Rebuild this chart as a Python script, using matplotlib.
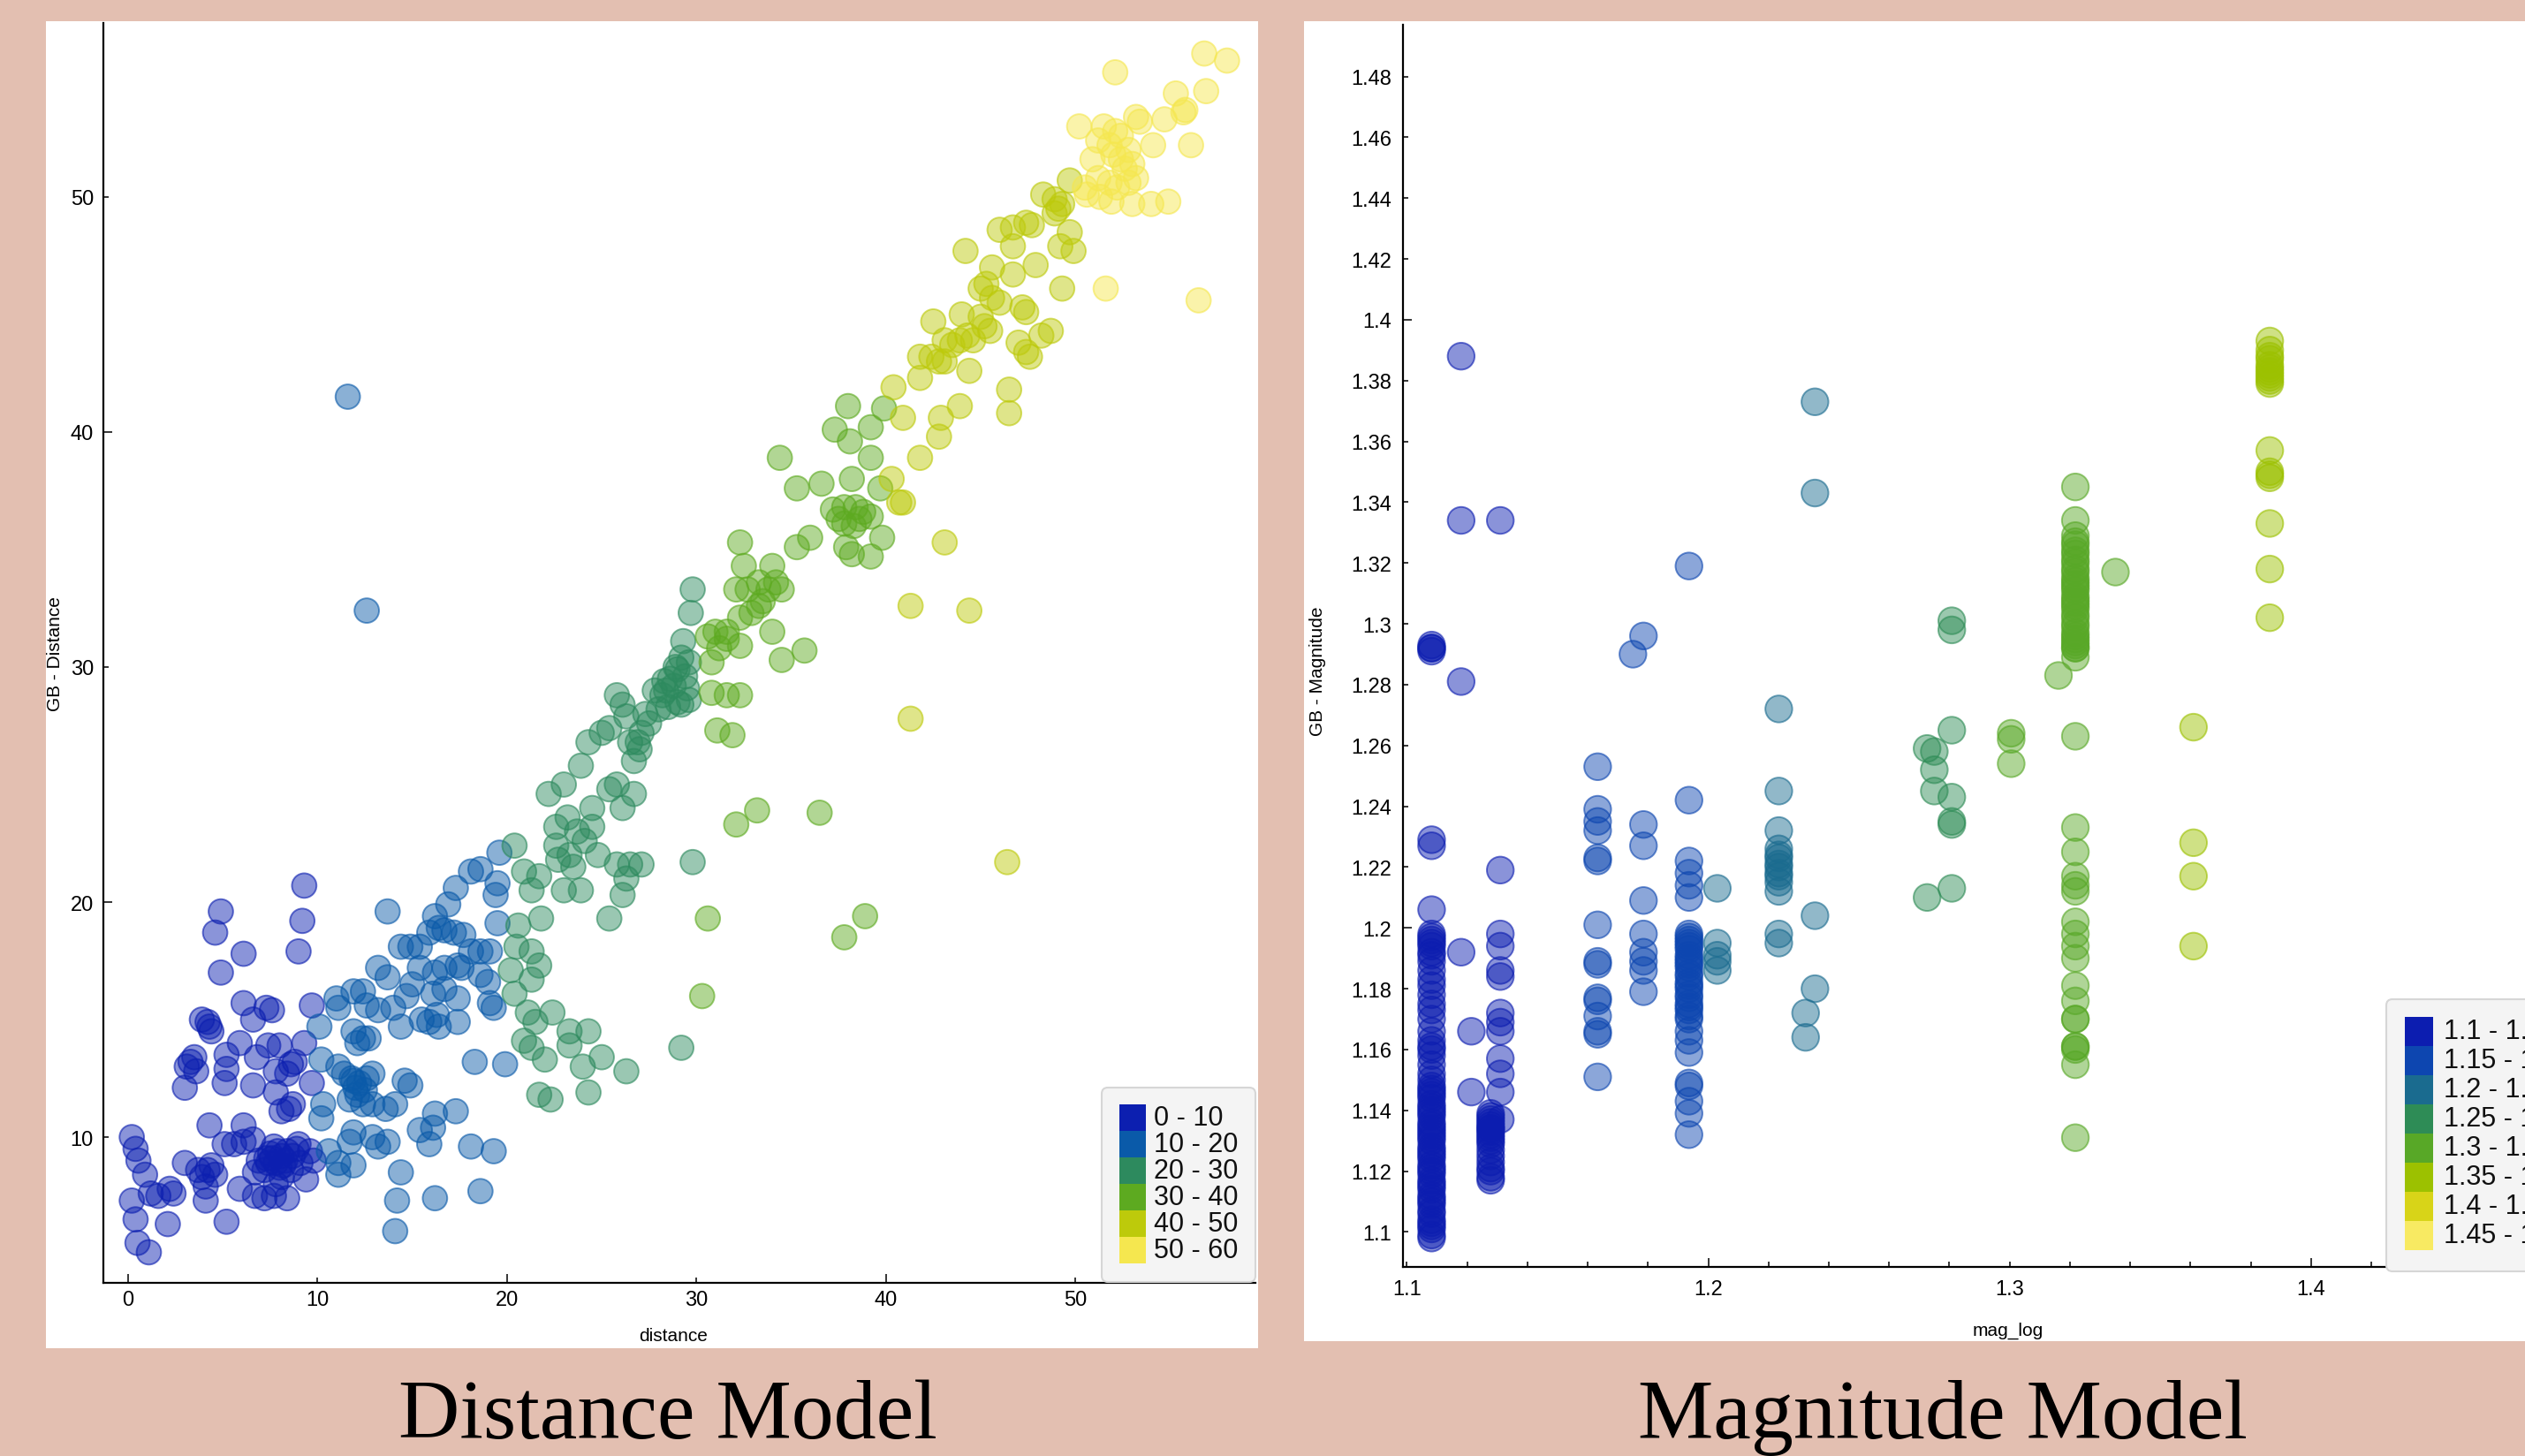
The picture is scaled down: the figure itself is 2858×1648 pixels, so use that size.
import numpy as np
import matplotlib
matplotlib.use("Agg")
import matplotlib.pyplot as plt
from matplotlib.patches import Rectangle, FancyBboxPatch
from matplotlib.ticker import FixedLocator, FormatStrFormatter
from matplotlib.colors import to_rgba

W, H = 2858, 1649

# ---- Distance model: (distance, GB - Distance) ----
dist_x = [
    # 0 - 10
    0.2, 0.4, 0.55, 0.9, 1.2, 1.6, 2.2, 3.0, 3.7, 3.9, 4.2, 4.4, 4.6, 4.1, 4.1, 5.1, 5.6, 6.1, 6.6, 5.9,
    6.7, 7.2, 7.7, 8.4, 6.7, 7.4, 7.8, 8.1, 7.7, 8.4, 8.7, 9.1, 9.4, 8.1, 7.8, 7.2, 9.6, 0.2, 0.4, 2.1,
    5.2, 0.5, 1.1, 4.3, 6.1, 9.3, 9.2, 9.0, 4.9, 4.6, 6.1, 4.9, 6.1, 7.3, 7.6, 6.6, 4.2, 4.3, 4.4, 3.9,
    9.7, 5.9, 7.4, 8.0, 9.3, 3.5, 3.1, 3.6, 3.3, 5.2, 5.2, 5.1, 3.0, 6.6, 6.8, 7.8, 8.6, 8.8, 8.4, 9.7,
    7.8, 8.7, 8.5, 8.1, 2.4, 8.0, 8.3, 7.5, 6.9, 9.0, 9.8, 7.6, 8.2, 7.9, 8.6, 7.3, 8.9,
    # 10 - 20
    13.7, 19.6, 18.6, 18.1, 17.3, 16.9, 16.2, 19.5, 19.4, 19.5, 14.4, 14.9, 15.4, 15.9, 16.4, 16.7, 17.2,
    17.7, 15.4, 16.2, 16.7, 17.4, 18.1, 18.6, 19.1, 18.6, 13.2, 13.7, 14.7, 16.1, 16.7, 17.4, 19.1, 19.3,
    17.4, 16.3, 15.9, 16.4, 14.4, 11.0, 11.1, 11.9, 12.4, 12.6, 10.1, 13.2, 11.9, 12.4, 12.7, 12.1, 18.3,
    19.9, 10.2, 11.1, 11.4, 11.9, 12.2, 12.6, 12.9, 12.1, 11.7, 12.4, 12.9, 10.2, 14.1, 14.6, 14.9, 11.9,
    11.7, 12.9, 13.2, 13.7, 10.6, 11.1, 11.1, 11.9, 15.4, 16.1, 15.9, 17.3, 18.1, 19.3, 14.4, 14.2, 16.2,
    18.6, 14.1, 11.6, 12.6, 15.0, 14.0, 15.5, 17.6, 19.0, 10.3, 13.6, 16.2, 12.0, 11.8, 12.5,
    # 20 - 30
    20.4, 20.9, 21.7, 21.3, 21.8, 20.5, 21.3, 21.7, 20.2, 20.4, 21.3, 21.1, 21.5, 22.4, 20.9, 21.3, 23.3,
    24.3, 23.3, 25.0, 26.3, 21.7, 22.3, 24.3, 22.2, 23.0, 22.6, 23.2, 23.7, 22.6, 23.3, 23.5, 22.7, 23.0,
    23.9, 24.1, 24.5, 24.5, 25.4, 25.8, 26.1, 26.7, 25.8, 26.5, 27.1, 26.3, 26.1, 25.4, 23.9, 24.3, 25.0,
    25.4, 25.8, 26.1, 26.3, 26.5, 26.7, 26.9, 27.1, 27.3, 27.8, 28.2, 28.6, 29.0, 29.4, 29.8, 29.7, 29.3,
    28.3, 28.9, 29.2, 29.6, 28.0, 28.5, 29.0, 29.5, 27.5, 27.0, 28.4, 29.8, 29.2, 29.2, 29.6, 28.8, 22.0,
    24.0, 20.6, 24.8,
    # 30 - 40
    30.6, 30.3, 32.1, 33.2, 36.5, 37.8, 38.9, 31.1, 31.9, 30.8, 31.6, 32.3, 30.8, 31.2, 31.6, 30.6, 31.0,
    31.6, 32.3, 32.3, 32.9, 32.3, 32.5, 32.1, 32.7, 33.3, 33.8, 34.2, 34.0, 34.5, 33.3, 33.5, 34.0, 34.5,
    35.7, 34.4, 35.3, 35.3, 36.0, 36.6, 37.3, 38.0, 38.1, 39.2, 39.2, 38.2, 37.2, 37.8, 38.4, 38.8, 37.8,
    38.6, 39.2, 37.9, 38.2, 39.2, 39.8, 39.7, 39.9, 37.5, 38.3,
    # 40 - 50
    40.3, 40.7, 40.9, 40.4, 40.9, 41.8, 41.3, 41.3, 43.1, 44.4, 46.4, 42.8, 42.9, 43.9, 41.8, 41.8, 42.4,
    42.8, 43.1, 42.5, 43.1, 43.5, 43.9, 44.3, 44.6, 44.4, 45.0, 45.2, 45.5, 44.2, 45.6, 45.0, 45.6, 46.7,
    47.2, 47.4, 47.0, 47.4, 47.6, 48.2, 48.7, 46.5, 46.5, 47.9, 49.3, 46.0, 46.7, 47.4, 47.7, 46.7, 48.3,
    48.9, 49.3, 48.9, 49.1, 49.7, 49.7, 49.9, 49.2, 44.0, 45.3, 46.0,
    # 50 - 60
    52.1, 50.2, 51.5, 52.1, 52.4, 53.2, 53.4, 54.7, 55.3, 56.8, 58.0, 56.9, 55.8, 55.7, 56.1, 54.1, 51.2,
    51.8, 52.0, 52.4, 52.8, 52.6, 53.0, 50.9, 51.2, 51.8, 52.2, 52.8, 53.2, 50.5, 51.3, 51.9, 53.0, 54.0,
    54.9, 51.6, 56.5, 50.6,
]
dist_y = [
    # 0 - 10
    10.0, 9.5, 9.0, 8.4, 7.6, 7.5, 7.8, 8.9, 8.6, 8.3, 8.6, 8.8, 8.4, 7.9, 7.3, 9.7, 9.7, 9.8, 9.9, 7.8,
    7.5, 7.4, 7.5, 7.4, 8.5, 8.9, 8.9, 9.2, 9.6, 9.4, 9.2, 8.9, 8.2, 8.3, 8.0, 8.6, 9.4, 7.3, 6.5, 6.3,
    6.4, 5.5, 5.1, 10.5, 10.5, 20.7, 19.2, 17.9, 19.6, 18.7, 17.8, 17.0, 15.7, 15.5, 15.4, 15.0, 14.9, 14.7, 14.5, 15.0,
    15.6, 14.0, 13.9, 13.9, 14.0, 13.4, 13.0, 12.8, 13.2, 13.5, 12.9, 12.3, 12.1, 12.2, 13.4, 12.8, 13.1, 13.2, 12.7, 12.3,
    11.9, 11.4, 11.2, 11.1, 7.6, 8.7, 9.0, 9.3, 9.0, 9.7, 9.0, 9.1, 8.8, 9.4, 8.6, 9.1, 9.5,
    # 10 - 20
    19.6, 22.1, 21.4, 21.3, 20.6, 19.9, 19.4, 20.8, 20.3, 19.1, 18.1, 18.1, 18.1, 18.7, 18.9, 18.8, 18.7,
    18.6, 17.2, 17.0, 17.2, 17.3, 17.9, 17.9, 17.9, 16.9, 17.2, 16.8, 16.0, 16.1, 16.3, 15.9, 15.7, 15.5,
    14.9, 15.2, 14.9, 14.7, 14.7, 15.9, 15.5, 16.2, 16.2, 15.6, 14.7, 15.4, 14.5, 14.2, 14.2, 14.0, 13.2,
    13.1, 13.3, 13.0, 12.7, 12.4, 12.3, 12.5, 12.7, 11.8, 11.6, 11.4, 11.4, 10.8, 11.4, 12.4, 12.2, 10.2,
    9.8, 10.0, 9.6, 9.8, 9.4, 8.9, 8.4, 8.8, 10.3, 10.4, 9.7, 11.1, 9.6, 9.4, 8.5, 7.3, 7.4,
    7.7, 6.0, 41.5, 32.4, 16.5, 15.5, 15.0, 17.2, 16.6, 11.4, 11.2, 11.0, 12.1, 12.5, 12.0,
    # 20 - 30
    22.4, 21.3, 21.1, 20.5, 19.3, 18.1, 17.9, 17.3, 17.1, 16.1, 16.7, 15.3, 14.9, 15.3, 14.1, 13.8, 14.5,
    14.5, 13.9, 13.4, 12.8, 11.8, 11.6, 11.9, 24.6, 25.0, 23.2, 23.6, 23.0, 22.4, 22.0, 21.5, 21.8, 20.5,
    20.5, 22.6, 23.2, 24.0, 24.8, 25.0, 24.0, 24.6, 21.6, 21.6, 21.6, 21.0, 20.3, 19.3, 25.8, 26.8, 27.2,
    27.4, 28.8, 28.4, 27.9, 26.8, 26.0, 26.8, 27.2, 28.0, 29.0, 28.8, 29.5, 29.9, 29.6, 33.3, 32.3, 31.1,
    29.4, 30.0, 28.4, 28.6, 28.2, 28.3, 28.5, 29.1, 27.6, 26.5, 29.0, 21.7, 13.8, 30.4, 30.2, 29.2, 13.3,
    13.0, 19.0, 22.0,
    # 30 - 40
    19.3, 16.0, 23.3, 23.9, 23.8, 18.5, 19.4, 27.3, 27.1, 28.9, 28.8, 28.8, 30.2, 30.8, 31.2, 31.3, 31.5,
    31.5, 30.9, 32.1, 32.3, 35.3, 34.3, 33.3, 33.3, 33.6, 33.3, 33.6, 34.3, 33.3, 32.6, 32.8, 31.5, 30.3,
    30.7, 38.9, 37.6, 35.1, 35.5, 37.8, 40.1, 41.1, 39.6, 40.2, 38.9, 38.0, 36.7, 36.8, 36.8, 36.6, 36.1,
    36.3, 36.4, 35.1, 34.8, 34.7, 35.5, 37.6, 41.0, 36.3, 36.0,
    # 40 - 50
    38.0, 37.0, 37.0, 41.9, 40.6, 38.9, 32.6, 27.8, 35.3, 32.4, 21.7, 39.8, 40.6, 41.1, 42.3, 43.2, 43.2,
    43.0, 43.0, 44.7, 43.9, 43.7, 43.9, 44.1, 43.9, 42.6, 44.9, 44.5, 44.3, 47.7, 47.0, 46.1, 45.7, 46.7,
    45.3, 45.1, 43.8, 43.4, 43.2, 44.1, 44.3, 41.8, 40.8, 47.1, 46.1, 48.6, 48.7, 48.9, 48.8, 47.9, 50.1,
    49.9, 49.7, 49.3, 49.5, 50.7, 48.5, 47.7, 47.9, 45.0, 46.3, 45.5,
    # 50 - 60
    55.3, 53.0, 53.0, 52.8, 52.6, 53.4, 53.2, 53.3, 54.4, 56.1, 55.8, 54.5, 53.7, 53.6, 52.2, 52.2, 52.4,
    52.2, 51.8, 51.6, 52.0, 51.2, 51.4, 51.6, 50.8, 50.6, 50.4, 50.6, 50.8, 50.4, 50.0, 49.8, 49.7, 49.7,
    49.8, 46.1, 45.6, 50.1,
]
dist_bins = [0, 10, 20, 30, 40, 50, 60]
dist_colors = ['#0C1FB0', '#0A5AA9', '#2D8A5E', '#5DAA20', '#BDCA0B', '#F5E74F']
dist_labels = ['0 - 10', '10 - 20', '20 - 30', '30 - 40', '40 - 50', '50 - 60']

# ---- Magnitude model: columns of (mag_log, GB - Magnitude) ----
mag_col_x = [1.1082, 1.118, 1.1214, 1.1278, 1.131, 1.1633, 1.175, 1.1785, 1.1936, 1.203, 1.2234,
             1.2323, 1.2354, 1.2726, 1.275, 1.2808, 1.3005, 1.3162, 1.3218, 1.3351, 1.361, 1.3863]
mag_col_y = [
    [1.098, 1.101, 1.103, 1.106, 1.109, 1.111, 1.114, 1.116, 1.119, 1.121, 1.124, 1.126, 1.128, 1.131,
     1.133, 1.135, 1.138, 1.140, 1.142, 1.145, 1.147, 1.150, 1.155, 1.158, 1.160, 1.163, 1.166, 1.170,
     1.173, 1.178, 1.183, 1.186, 1.189, 1.192, 1.194, 1.196, 1.198, 1.206, 1.227, 1.229, 1.291, 1.292,
     1.293, 1.099, 1.102, 1.104, 1.107, 1.110, 1.112, 1.115, 1.117, 1.120, 1.122, 1.125, 1.127, 1.130,
     1.132, 1.134, 1.136, 1.139, 1.141, 1.144, 1.146, 1.148, 1.152, 1.161, 1.175, 1.181, 1.191, 1.195,
     1.197, 1.292],
    [1.388, 1.334, 1.281, 1.192],
    [1.166, 1.146],
    [1.117, 1.120, 1.123, 1.125, 1.129, 1.131, 1.132, 1.134, 1.135, 1.137, 1.139, 1.118, 1.121, 1.127,
     1.130, 1.133, 1.134, 1.136, 1.138],
    [1.334, 1.219, 1.198, 1.194, 1.186, 1.184, 1.172, 1.169, 1.166, 1.157, 1.152, 1.146, 1.137],
    [1.253, 1.239, 1.235, 1.232, 1.223, 1.222, 1.201, 1.189, 1.188, 1.177, 1.176, 1.171, 1.166, 1.165,
     1.151],
    [1.290],
    [1.296, 1.234, 1.227, 1.209, 1.198, 1.192, 1.189, 1.186, 1.179],
    [1.319, 1.242, 1.222, 1.218, 1.214, 1.210, 1.198, 1.195, 1.193, 1.190, 1.188, 1.185, 1.182, 1.180,
     1.178, 1.175, 1.173, 1.170, 1.166, 1.163, 1.159, 1.149, 1.148, 1.143, 1.139, 1.132, 1.197, 1.194,
     1.191, 1.187, 1.184, 1.181, 1.177, 1.174, 1.171, 1.196, 1.189],
    [1.213, 1.195, 1.191, 1.189, 1.186],
    [1.272, 1.245, 1.232, 1.226, 1.223, 1.221, 1.218, 1.215, 1.212, 1.198, 1.195, 1.224, 1.220, 1.217],
    [1.172, 1.164],
    [1.373, 1.343, 1.204, 1.180],
    [1.259, 1.210],
    [1.258, 1.252, 1.245],
    [1.301, 1.298, 1.265, 1.243, 1.235, 1.234, 1.213],
    [1.264, 1.262, 1.254],
    [1.283],
    [1.345, 1.334, 1.329, 1.326, 1.323, 1.320, 1.317, 1.314, 1.311, 1.308, 1.305, 1.302, 1.299, 1.296,
     1.294, 1.292, 1.289, 1.263, 1.233, 1.225, 1.217, 1.214, 1.212, 1.202, 1.198, 1.194, 1.190, 1.181,
     1.176, 1.170, 1.161, 1.160, 1.155, 1.131, 1.327, 1.324, 1.321, 1.318, 1.315, 1.312, 1.309, 1.306,
     1.303, 1.300, 1.297, 1.295, 1.293, 1.292, 1.313, 1.307, 1.161, 1.170],
    [1.317],
    [1.266, 1.228, 1.217, 1.194],
    [1.393, 1.390, 1.387, 1.384, 1.381, 1.379, 1.357, 1.350, 1.348, 1.333, 1.318, 1.302, 1.388, 1.385,
     1.383, 1.382, 1.380, 1.349],
]
mag_bins = [1.1, 1.15, 1.2, 1.25, 1.3, 1.35, 1.4, 1.45, 1.5]
mag_colors = ['#0C1DB0', '#0D46B0', '#1A6B8F', '#2E8C56', '#58A827', '#9CC100', '#D8D418', '#F8EA62']
mag_labels = ['1.1 - 1.15', '1.15 - 1.2', '1.2 - 1.25', '1.25 - 1.3',
              '1.3 - 1.35', '1.35 - 1.4', '1.4 - 1.45', '1.45 - 1.5']

mag_x = [x for x, ys in zip(mag_col_x, mag_col_y) for _ in ys]
mag_y = [y for ys in mag_col_y for y in ys]

plt.rcParams['font.family'] = ['Liberation Sans', 'DejaVu Sans']


def box(x0, y0, x1, y1):
    # pixel box (top-left origin) -> figure fraction rect
    return [x0 / W, 1 - y1 / H, (x1 - x0) / W, (y1 - y0) / H]


def point_colors(x, bins, colors):
    idx = np.clip(np.digitize(x, bins) - 1, 0, len(colors) - 1)
    face = [to_rgba(colors[i], 0.48) for i in idx]
    edge = [to_rgba(colors[i], 0.62) for i in idx]
    return face, edge


fig = plt.figure(figsize=(W / 100, H / 100), dpi=100, facecolor='#E3BFB1')

# white panels
bg = fig.add_axes([0, 0, 1, 1], zorder=0)
bg.set_xlim(0, W)
bg.set_ylim(H, 0)
bg.axis('off')
bg.add_patch(Rectangle((52, 25), 1372, 1502, fc='white', ec='none'))
bg.add_patch(Rectangle((1476, 25), 1400, 1494, fc='white', ec='none'))


def style_axes(ax):
    for s in ['top', 'right']:
        ax.spines[s].set_visible(False)
    for s in ['left', 'bottom']:
        ax.spines[s].set_linewidth(1.6)
    ax.patch.set_alpha(0)
    ax.tick_params(which='both', direction='in', width=1.1, labelsize=17, colors='black')
    ax.tick_params(which='major', length=7.5)
    ax.tick_params(which='minor', length=4.5)


# ---- left: distance ----
ax1 = fig.add_axes(box(117, 27, 1421, 1453), zorder=1)
fc, ec = point_colors(dist_x, dist_bins, dist_colors)
ax1.scatter(dist_x, dist_y, s=400, c=fc, edgecolors=ec, linewidths=1.4)
ax1.set_xlim(-1.3, 59.5)
ax1.set_ylim(3.8, 57.4)
style_axes(ax1)
ax1.xaxis.set_major_locator(FixedLocator([0, 20, 40]))
ax1.xaxis.set_minor_locator(FixedLocator([10, 30, 50]))
ax1.yaxis.set_major_locator(FixedLocator([20, 40]))
ax1.yaxis.set_minor_locator(FixedLocator([10, 30, 50]))
for a in (ax1.xaxis, ax1.yaxis):
    a.set_major_formatter(FormatStrFormatter('%d'))
    a.set_minor_formatter(FormatStrFormatter('%d'))
ax1.tick_params(axis='x', which='both', pad=6)
ax1.tick_params(axis='y', which='both', pad=8)
ax1.set_xlabel('distance', fontsize=15)
ax1.xaxis.set_label_coords(0.4946, -0.042)
ax1.xaxis.label.set_va('center')
ax1.set_ylabel('GB - Distance', fontsize=15)
ax1.yaxis.set_label_coords(-0.042, 0.5)
ax1.yaxis.label.set_va('center')

# ---- right: magnitude ----
ax2 = fig.add_axes(box(1588, 29, 2900, 1435), zorder=1)
fc, ec = point_colors(mag_x, mag_bins, mag_colors)
ax2.scatter(mag_x, mag_y, s=480, c=fc, edgecolors=ec, linewidths=1.4)
ax2.set_xlim(1.0987, 1.4833)
ax2.set_ylim(1.0885, 1.497)
style_axes(ax2)
ax2.xaxis.set_major_locator(FixedLocator([1.2, 1.4]))
ax2.xaxis.set_minor_locator(FixedLocator(np.round(np.arange(1.1, 1.49, 0.02), 2)))
ax2.xaxis.set_major_formatter(FormatStrFormatter('%g'))
ax2.xaxis.set_minor_formatter(lambda v, p: ('%g' % round(v, 2)) if abs(v * 10 - round(v * 10)) < 1e-6 else '')
ax2.yaxis.set_major_locator(FixedLocator([1.2, 1.4]))
ax2.yaxis.set_minor_locator(FixedLocator(np.round(np.arange(1.1, 1.49, 0.02), 2)))
ax2.yaxis.set_major_formatter(FormatStrFormatter('%g'))
ax2.yaxis.set_minor_formatter(lambda v, p: '%g' % round(v, 2))
ax2.tick_params(axis='x', which='both', pad=10)
ax2.tick_params(axis='y', which='both', pad=9)
ax2.set_xlabel('mag_log', fontsize=15)
ax2.xaxis.set_label_coords(0.522, -0.0505)
ax2.xaxis.label.set_va('center')
ax2.set_ylabel('GB - Magnitude', fontsize=15)
ax2.yaxis.set_label_coords(-0.0739, 0.48)
ax2.yaxis.label.set_va('center')

# ---- legends and titles (pixel overlay) ----
ov = fig.add_axes([0, 0, 1, 1], zorder=3)
ov.set_xlim(0, W)
ov.set_ylim(H, 0)
ov.axis('off')


def draw_legend(x0, y0, x1, y1, sq_x, sq_y, sq_w, sq_h, txt_x, colors, labels):
    ov.add_patch(FancyBboxPatch((x0, y0), x1 - x0, y1 - y0,
                                boxstyle='round,pad=0,rounding_size=7',
                                fc='#F4F4F4', ec='#D6D6D6', lw=1.5))
    for i, (c, lab) in enumerate(zip(colors, labels)):
        ov.add_patch(Rectangle((sq_x, sq_y + i * sq_h), sq_w, sq_h, fc=c, ec='none'))
        ov.text(txt_x, sq_y + (i + 0.5) * sq_h, lab, fontsize=22, va='center', ha='left',
                color='#111111')


draw_legend(1247, 1232, 1421, 1452, 1267, 1251, 30, 30, 1306, dist_colors, dist_labels)
draw_legend(2701, 1132, 2950, 1440, 2722, 1152, 32, 33, 2766, mag_colors, mag_labels)

fig.text(756 / W, 1 - 1628 / H, 'Distance Model', fontsize=69, ha='center', va='baseline',
         family='Liberation Serif', color='black')
fig.text(2199 / W, 1 - 1628 / H, 'Magnitude Model', fontsize=69, ha='center', va='baseline',
         family='Liberation Serif', color='black')

fig.savefig('out.png', dpi=100, facecolor=fig.get_facecolor())
